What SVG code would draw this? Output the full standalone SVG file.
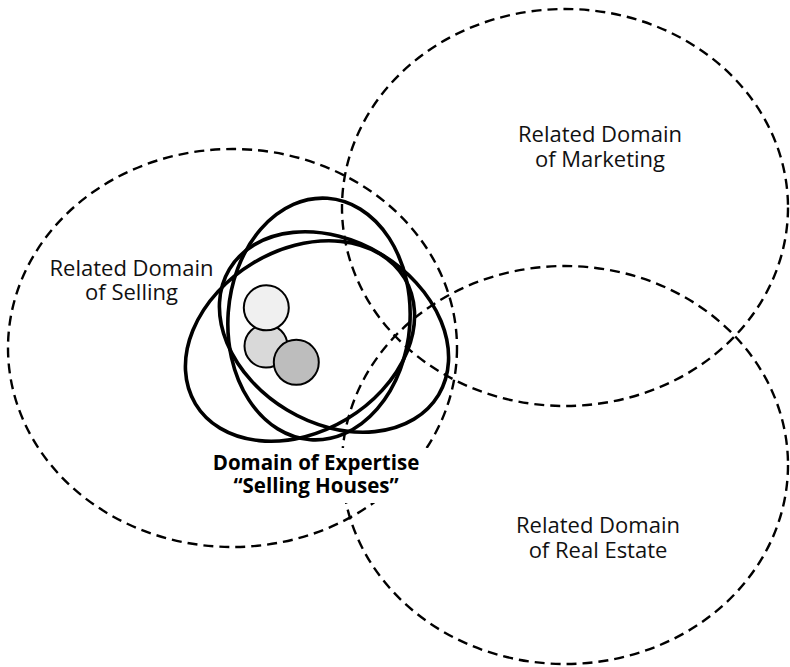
<svg xmlns="http://www.w3.org/2000/svg" width="790" height="667" viewBox="0 0 790 667">
<style>
.dom{fill:none;stroke:#000;stroke-width:2.4;stroke-dasharray:10 6}
.exp{fill:none;stroke:#000;stroke-width:3.6}
.pt{stroke:#000;stroke-width:2}
.lbl{font-family:"Open Sans","Noto Sans","Liberation Sans",sans-serif;font-size:22px;fill:#111;text-anchor:middle}
.ttl{font-family:"Open Sans","Noto Sans","Liberation Sans",sans-serif;font-size:20.5px;font-weight:bold;fill:#000;text-anchor:middle}
</style>
<rect width="790" height="667" fill="#fff"/>
<g id="domain-selling">
<ellipse class="dom" cx="232.5" cy="348" rx="224.5" ry="199"/>
<text class="lbl" x="131.5" y="276">Related Domain</text>
<text class="lbl" x="131.5" y="300">of Selling</text>
</g>
<g id="domain-marketing">
<ellipse class="dom" cx="565" cy="207.5" rx="223" ry="198.5"/>
<text class="lbl" x="600" y="142">Related Domain</text>
<text class="lbl" x="600" y="167">of Marketing</text>
</g>
<g id="domain-real-estate">
<ellipse class="dom" cx="565" cy="465" rx="223" ry="199"/>
<text class="lbl" x="598" y="533">Related Domain</text>
<text class="lbl" x="598" y="558">of Real Estate</text>
</g>
<g id="domain-expertise">
<rect x="205" y="448" width="225" height="55" fill="#fff"/>
<ellipse class="exp" cx="319" cy="319" rx="91" ry="121" transform="rotate(4 319 319)"/>
<ellipse class="exp" cx="334" cy="332" rx="122" ry="91" transform="rotate(31 334 332)"/>
<ellipse class="exp" cx="300" cy="341" rx="122" ry="91" transform="rotate(-31 300 341)"/>
<text class="ttl" x="316" y="470">Domain of Expertise</text>
<text class="ttl" x="316" y="493">“Selling Houses”</text>
</g>
<g id="experts">
<circle class="pt" cx="266" cy="346" r="21.5" fill="#d9d9d9"/>
<circle class="pt" cx="266.3" cy="307.8" r="22.5" fill="#f0f0f0"/>
<circle class="pt" cx="296.3" cy="362.3" r="22.5" fill="#bdbdbd"/>
</g>
<g id="connectors"/>
</svg>
